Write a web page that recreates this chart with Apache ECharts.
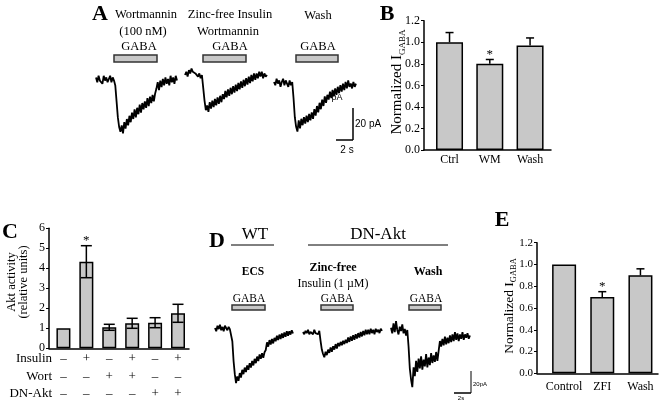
<!DOCTYPE html>
<html><head><meta charset="utf-8">
<script src="https://cdn.jsdelivr.net/npm/echarts@6/dist/echarts.min.js"></script>
<style>html,body{margin:0;padding:0;background:#fff}#c{width:661px;height:404px}</style>
</head><body><div id="c"></div><script>
// ---------- data ----------
const bCats = ['Ctrl', 'WM', 'Wash'];
const bMean = [1.0, 0.80, 0.97];
const bErr = [0.09, 0.04, 0.07];
const bSig = ['', '*', ''];

const cMean = [1.0, 4.33, 1.05, 1.25, 1.28, 1.75];
const cErr = [0, 0.8, 0.15, 0.25, 0.25, 0.45];
const cSig = ['', '*', '', '', '', ''];
const cInsulin = ['–', '+', '–', '+', '–', '+'];
const cWort = ['–', '–', '+', '+', '–', '–'];
const cDnAkt = ['–', '–', '–', '–', '+', '+'];
const cRowNames = ['Insulin', 'Wort', 'DN-Akt'];

const eCats = ['Control', 'ZFI', 'Wash'];
const eMean = [1.0, 0.70, 0.90];
const eErr = [0, 0.05, 0.06];
const eSig = ['', '*', ''];

// current traces (pA, relative to baseline), equal time steps
const traceA1 = [1,-2,2,-1,0,-3,2,-1,1,-2,0,2,-2,1,-1,-4,-14,-24,-30,-33,-29,-34,-27,-31,-25,-29,-23,-27,-21,-25,-19,-24,-18,-22,-16,-21,-15,-19,-14,-18,-12,-17,-11,-15,-10,-14,-9,-6,-2,-7,-1,-5,0,-4,1,-3,0,-4,2,-2,1,-3,2,-1];
const traceA2 = [0,2,-1,3,1,4,2,3,1,2,-1,1,-2,0,-8,-16,-22,-19,-23,-17,-21,-16,-20,-15,-19,-14,-18,-13,-17,-12,-15,-10,-14,-9,-13,-8,-12,-7,-11,-6,-10,-5,-9,-4,-8,-3,-7,-2,-6,-1,-5,0,-4,1,-3,1,-2,2,-1,2,-2,1,-1,0];
const traceA3 = [0,-2,2,-1,1,-3,0,2,-2,1,-1,-3,1,-2,0,-10,-22,-28,-31,-24,-29,-23,-27,-22,-26,-21,-25,-20,-24,-19,-23,-17,-21,-15,-19,-13,-17,-11,-15,-9,-13,-8,-11,-6,-10,-5,-9,-4,-8,-3,-7,-2,-6,-1,-5,0,-4,1,-3,-1,-4,0,-3,-1];
const traceD1 = [0,-3,2,-1,3,-2,1,-3,2,0,-2,1,-1,0,-12,-30,-42,-50,-44,-48,-41,-45,-38,-42,-36,-40,-34,-38,-32,-36,-30,-34,-28,-32,-26,-30,-24,-28,-23,-27,-22,-20,-13,-17,-11,-15,-10,-14,-9,-12,-7,-11,-6,-10,-5,-9,-4,-8,-3,-7,-3,-6,-2,-5];
const traceD2 = [0,-2,1,-1,2,-2,0,1,-2,2,-1,0,-2,1,-8,-16,-20,-23,-18,-21,-16,-19,-14,-18,-13,-16,-11,-15,-10,-13,-9,-12,-8,-11,-7,-10,-5,-9,-4,-8,-3,-7,-2,-6,-1,-5,0,-4,1,-3,2,-2,2,-2,3,-1,2,-2,3,0,2,-1,3,1];
const traceD3 = [2,-3,6,-2,8,0,-4,3,-1,5,-3,1,-5,0,-15,-35,-45,-52,-34,-42,-28,-38,-26,-35,-24,-36,-27,-33,-22,-34,-25,-32,-21,-30,-23,-29,-20,-28,-19,-10,-15,-8,-14,-6,-13,-7,-12,-5,-11,-4,-10,-2,-9,-3,-10,-4,-8,-2,-9,-4,-7,-3,-8,-5];

// ---------- helpers ----------
const SERIF = '"Liberation Serif", "Times New Roman", serif';
const SANS = '"Liberation Sans", Arial, sans-serif';
const BAR_FILL = '#c8c8c8';

function T(text, x, y, size, opts) {
  opts = opts || {};
  return {type: 'text', x: x, y: y, rotation: opts.rot || 0, silent: true,
    style: {text: text, fontSize: size, fontFamily: opts.family || SERIF,
      fontWeight: opts.bold ? 'bold' : 'normal', fill: '#000',
      align: opts.align || 'center', verticalAlign: 'middle',
      rich: opts.rich, lineHeight: opts.lh}};
}
function L(x1, y1, x2, y2, w, c) {
  return {type: 'line', silent: true, shape: {x1: x1, y1: y1, x2: x2, y2: y2},
    style: {stroke: c || '#000', lineWidth: w || 1}};
}
function R(x, y, w, h) {
  return {type: 'rect', silent: true, shape: {x: x, y: y, width: w, height: h},
    style: {fill: BAR_FILL, stroke: '#333', lineWidth: 1.5}};
}

function barXAxis(gi, cats, min, max, fs, margin, fmt) {
  return {type: 'value', gridIndex: gi, min: min, max: max,
    axisLine: {show: true, onZero: false, lineStyle: {color: '#000', width: 1.5}},
    axisTick: {show: false}, splitLine: {show: false},
    axisLabel: {customValues: cats.map((c, i) => i), color: '#000', fontFamily: SERIF,
      fontSize: fs, margin: margin, lineHeight: fmt ? 17.5 : undefined,
      formatter: fmt || (v => cats[Math.round(v)])}};
}
function barYAxis(gi, max, interval, fs, dec) {
  return {type: 'value', gridIndex: gi, min: 0, max: max, interval: interval,
    axisLine: {show: true, onZero: false, lineStyle: {color: '#000', width: 1.5}},
    axisTick: {show: true, length: 3, lineStyle: {color: '#000', width: 1}},
    splitLine: {show: false},
    axisLabel: {color: '#000', fontFamily: SERIF, fontSize: fs, margin: 4,
      formatter: v => v.toFixed(dec)}};
}
function barSeries(gi, mean, bw) {
  return {type: 'bar', xAxisIndex: gi, yAxisIndex: gi, barWidth: bw, silent: true,
    data: mean.map((m, i) => [i, m]),
    itemStyle: {color: BAR_FILL, borderColor: '#000', borderWidth: 1.5}};
}
function errSeries(gi, mean, err, sig, cap, twoSided) {
  return {type: 'custom', xAxisIndex: gi, yAxisIndex: gi, z: 5, silent: true,
    data: mean.map((m, i) => [i, m, err[i]]),
    renderItem: function (params, api) {
      const x = api.value(0), m = api.value(1), e = api.value(2);
      const children = [];
      const top = api.coord([x, m + e]);
      if (e > 0) {
        const bot = api.coord([x, twoSided ? m - e : m]);
        children.push({type: 'line', shape: {x1: top[0], y1: top[1], x2: bot[0], y2: bot[1]}, style: {stroke: '#000', lineWidth: 1.5}});
        children.push({type: 'line', shape: {x1: top[0] - cap / 2, y1: top[1], x2: top[0] + cap / 2, y2: top[1]}, style: {stroke: '#000', lineWidth: 1.5}});
        if (twoSided) children.push({type: 'line', shape: {x1: bot[0] - cap / 2, y1: bot[1], x2: bot[0] + cap / 2, y2: bot[1]}, style: {stroke: '#000', lineWidth: 1.5}});
      }
      const s = sig[params.dataIndex];
      if (s) children.push({type: 'text', x: top[0], y: top[1] - 5,
        style: {text: s, fontSize: 13, fontFamily: SERIF, fill: '#000', align: 'center', verticalAlign: 'middle'}});
      return {type: 'group', children: children};
    }};
}

// trace grids: [left, width, top, height, ymin, ymax]
const traceGrids = [
  [96, 81, 63, 80, -40, 10], [185, 82, 59, 80, -40, 10], [274, 82, 66, 80, -40, 10],
  [215, 78, 317, 77, -60, 10], [303, 79, 321, 77, -60, 10], [391, 79, 319, 77, -60, 10]
];
const traces = [traceA1, traceA2, traceA3, traceD1, traceD2, traceD3];

const grids = [
  {left: 424, top: 20.7, width: 127, height: 129.3},
  {left: 49, top: 228.3, width: 140, height: 120},
  {left: 537, top: 242.7, width: 121, height: 130.6}
];
const xAxes = [
  barXAxis(0, bCats, -0.634, 2.52, 12, 3.5),
  barXAxis(1, cInsulin, -0.63, 5.48, 13, 2, v => { const i = Math.round(v); return cInsulin[i] + '\n' + cWort[i] + '\n' + cDnAkt[i]; }),
  barXAxis(2, eCats, -0.71, 2.46, 12, 8)
];
const yAxes = [
  barYAxis(0, 1.2, 0.2, 12, 1),
  barYAxis(1, 6, 1, 12, 0),
  barYAxis(2, 1.2, 0.2, 11, 1)
];
const series = [
  barSeries(0, bMean, 27), errSeries(0, bMean, bErr, bSig, 8, false),
  barSeries(1, cMean, 14), errSeries(1, cMean, cErr, cSig, 11, true),
  barSeries(2, eMean, 24), errSeries(2, eMean, eErr, eSig, 8, false)
];
traceGrids.forEach((g, k) => {
  const gi = 3 + k;
  grids.push({left: g[0], width: g[1], top: g[2], height: g[3]});
  xAxes.push({type: 'value', gridIndex: gi, min: 0, max: traces[k].length - 1, show: false});
  yAxes.push({type: 'value', gridIndex: gi, min: g[4], max: g[5], show: false});
  series.push({type: 'line', xAxisIndex: gi, yAxisIndex: gi, showSymbol: false, silent: true,
    data: traces[k].map((v, i) => [i, v]), lineStyle: {color: '#000', width: 1.8}});
});

const subRich = (fs, sfs) => ({
  a: {fontSize: fs, fontFamily: SERIF, lineHeight: fs + 6, verticalAlign: 'middle'},
  s: {fontSize: sfs, fontFamily: SERIF, lineHeight: sfs + 1, verticalAlign: 'bottom'}
});

const graphic = [
  // panel letters
  T('A', 100, 14, 22, {bold: true}), T('B', 387, 14, 22, {bold: true}),
  T('C', 10, 232, 22, {bold: true}), T('D', 217, 241, 22, {bold: true}),
  T('E', 502, 220, 22, {bold: true}),
  // panel A labels
  T('Wortmannin', 146, 15, 12.5), T('(100 nM)', 143, 32, 12.5), T('GABA', 139, 47, 12.5),
  T('Zinc-free Insulin', 230, 15, 12.5), T('Wortmannin', 228, 32, 12.5), T('GABA', 230, 47, 12.5),
  T('Wash', 318, 16, 12.5), T('GABA', 318, 47, 12.5),
  R(114, 55, 43, 7), R(203, 55, 43, 7), R(296, 55, 42, 7),
  L(353, 108, 353, 140, 1.5), L(336, 140, 353, 140, 1.5),
  T('20 pA', 355, 124, 10, {family: SANS, align: 'left'}), T('2 s', 347, 150, 10, {family: SANS}),
  T('pA', 337, 98, 9, {family: SANS}),
  // panel B y name
  T('{a|Normalized I}{s|GABA}', 397, 82, 15, {rot: Math.PI / 2, rich: subRich(15, 9)}),
  // panel C
  T('Akt activity\n(relative units)', 18, 282, 12.5, {rot: Math.PI / 2, lh: 12}),
  T(cRowNames[0], 52, 359, 13, {align: 'right'}),
  T(cRowNames[1], 52, 376.5, 13, {align: 'right'}),
  T(cRowNames[2], 52, 394, 13, {align: 'right'}),
  // panel D
  T('WT', 255, 235, 17), L(231, 245, 274, 245, 1),
  T('DN-Akt', 378, 235, 17), L(308, 245, 448, 245, 1),
  T('ECS', 253, 272, 11.5, {bold: true}), T('Zinc-free', 333, 268, 12, {bold: true}),
  T('Insulin (1 µM)', 333, 284, 12), T('Wash', 428, 272, 12, {bold: true}),
  T('GABA', 249, 299, 11.5), T('GABA', 337, 299, 11.5), T('GABA', 426, 299, 11.5),
  R(232, 305, 33, 5), R(321, 305, 32, 5), R(409, 305, 32, 5),
  L(471, 371, 471, 393, 1), L(454, 393, 471, 393, 1.5),
  T('20pA', 473, 384, 6, {family: SANS, align: 'left'}), T('2s', 461, 398, 6, {family: SANS}),
  // panel E y name
  T('{a|Normalized I}{s|GABA}', 509, 306, 13.5, {rot: Math.PI / 2, rich: subRich(13.5, 8.5)})
];

const chart = echarts.init(document.getElementById('c'), null, {renderer: 'canvas'});
chart.setOption({
  backgroundColor: '#fff', animation: false,
  grid: grids, xAxis: xAxes, yAxis: yAxes, series: series, graphic: graphic
});
</script></body></html>
